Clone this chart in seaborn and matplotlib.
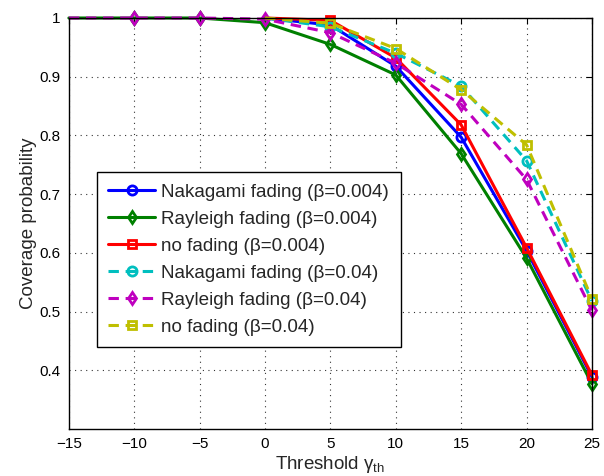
import matplotlib
matplotlib.use("Agg")
import matplotlib.pyplot as plt
import seaborn as sns

sns.set_style("white")
plt.rcParams['font.family'] = ['Liberation Sans', 'DejaVu Sans']
plt.rcParams['mathtext.fontset'] = 'custom'
plt.rcParams['mathtext.rm'] = 'Liberation Sans'
plt.rcParams['mathtext.it'] = 'Liberation Sans'
plt.rcParams['axes.unicode_minus'] = True

# Data
x_full = [-15, -10, -5, 0, 5, 10, 15, 20, 25]
x_part = [0, 5, 10, 15, 20, 25]
nakagami_004 = [1.0, 0.988, 0.918, 0.797, 0.604, 0.389]
rayleigh_004 = [1.0, 1.0, 1.0, 0.992, 0.955, 0.903, 0.769, 0.591, 0.377]
nofading_004 = [1.0, 0.996, 0.932, 0.818, 0.609, 0.392]
nakagami_04 = [1.0, 0.985, 0.940, 0.884, 0.757, 0.518]
rayleigh_04 = [1.0, 1.0, 1.0, 0.998, 0.975, 0.923, 0.853, 0.725, 0.502]
nofading_04 = [1.0, 0.991, 0.948, 0.878, 0.784, 0.522]

labels = ["Nakagami fading (β=0.004)", "Rayleigh fading (β=0.004)", "no fading (β=0.004)",
          "Nakagami fading (β=0.04)", "Rayleigh fading (β=0.04)", "no fading (β=0.04)"]
xticks = [-15, -10, -5, 0, 5, 10, 15, 20, 25]
yticks = [0.4, 0.5, 0.6, 0.7, 0.8, 0.9, 1.0]
ytick_labels = ["0.4", "0.5", "0.6", "0.7", "0.8", "0.9", "1"]

fig = plt.figure(figsize=(6.04, 4.76), dpi=100)
ax = fig.add_axes([0.114, 0.0987, 0.866, 0.8635])

series = [
    (x_part, nakagami_004, (0, 0, 1), 'o', '-', labels[0]),
    (x_full, rayleigh_004, (0, 0.5, 0), 'd', '-', labels[1]),
    (x_part, nofading_004, (1, 0, 0), 's', '-', labels[2]),
    (x_part, nakagami_04, (0, 0.75, 0.75), 'o', '--', labels[3]),
    (x_full, rayleigh_04, (0.75, 0, 0.75), 'd', '--', labels[4]),
    (x_part, nofading_04, (0.75, 0.75, 0), 's', '--', labels[5]),
]
msizes = {'o': 6.6, 's': 6.2, 'd': 6.6}

for xs, ys, col, mk, ls, lab in series:
    kw = dict(markevery=slice(1, None))
    if ls == '--':
        kw['dashes'] = (3.4, 2.2)
    sns.lineplot(x=xs, y=ys, ax=ax, color=col, marker=mk, label=lab,
                 linewidth=2.2, markersize=msizes[mk], markeredgewidth=2.0,
                 markeredgecolor=col, markerfacecolor='none', clip_on=False, **kw)

ax.set_xlim(-15, 25)
ax.set_ylim(0.3, 1.0)
ax.set_xticks(xticks)
ax.set_yticks(yticks)
ax.set_yticklabels(ytick_labels)
ax.tick_params(direction='in', length=4, width=0.8, top=True, right=True, labelsize=11, colors='black', pad=6)
for sp in ax.spines.values():
    sp.set_visible(True)
    sp.set_color('black')
    sp.set_linewidth(1.0)
ax.grid(True, linestyle=(0, (1, 4)), color='black', linewidth=0.8, alpha=0.8)

ax.set_xlabel(r'Threshold $\gamma_{\rm th}$', fontsize=13.5, labelpad=2)
ax.set_ylabel('Coverage probability', fontsize=13.5, labelpad=2)

leg = ax.legend(loc='upper left', bbox_to_anchor=(0.0535, 0.625), borderaxespad=0,
                fontsize=13.6, frameon=True, fancybox=False, framealpha=1, edgecolor='black',
                handlelength=2.5, handletextpad=0.32, labelspacing=0.52, borderpad=0.6)
leg.get_frame().set_linewidth(1.0)
leg.set_zorder(10)

fig.savefig("out.png", dpi=100)
